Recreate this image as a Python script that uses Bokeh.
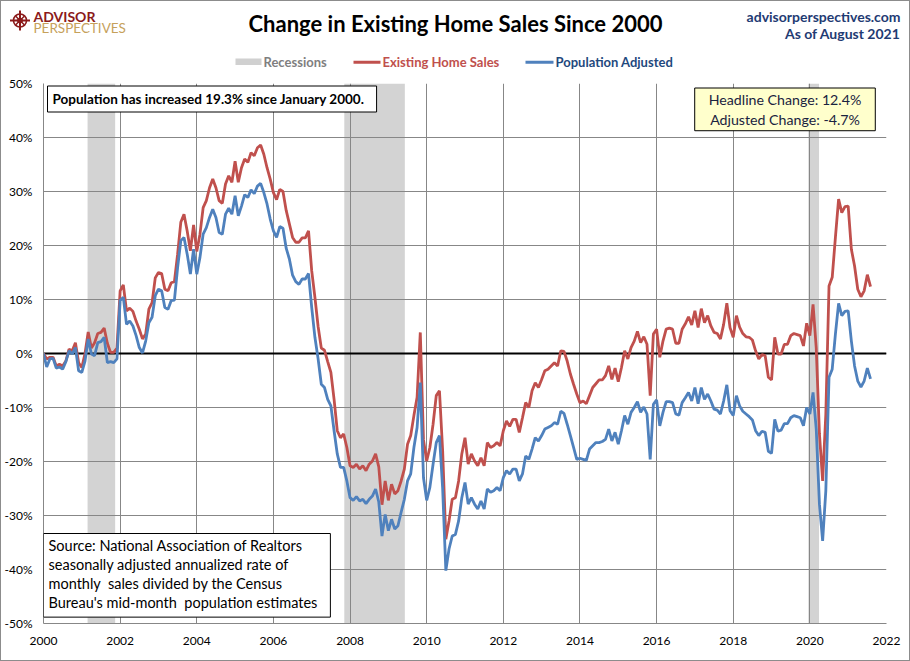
import pandas as pd
from bokeh.plotting import figure
from bokeh.models import Range1d, FixedTicker, PrintfTickFormatter, Span, Label
from bokeh.layouts import column
from bokeh.embed import file_html
from bokeh.resources import INLINE

# ---------------- data (percent change since Jan 2000, monthly) ----------------
existing_home_sales = [
    0.0, -1.0, -0.7, -0.7, -2.3, -2.0, -2.3, -1.4, 0.8, 0.5, 2.0, -1.7,          # 2000
    -2.6, 0.0, 4.0, 1.0, 2.0, 3.7, 3.9, 4.7, 1.9, 0.2, 0.2, 1.0,                 # 2001
    11.6, 12.7, 7.9, 8.4, 7.8, 6.0, 4.5, 2.7, 3.6, 8.2, 9.4, 14.0,               # 2002
    15.0, 14.8, 11.9, 11.6, 13.1, 13.3, 18.4, 24.3, 25.8, 22.7, 19.0, 23.8,      # 2003
    18.9, 22.1, 27.0, 28.3, 30.7, 32.3, 30.7, 28.3, 27.8, 31.4, 32.9, 31.7,      # 2004
    35.6, 31.7, 34.4, 36.0, 35.4, 37.2, 36.6, 38.1, 38.6, 36.9, 34.4, 32.3,      # 2005
    29.8, 28.5, 30.4, 30.0, 26.5, 24.0, 21.5, 20.6, 20.6, 21.4, 21.4, 22.7,      # 2006
    15.3, 10.4, 5.0, 1.0, 0.6, -1.5, -3.5, -8.5, -14.3, -15.6, -14.9, -17.4,     # 2007
    -20.8, -21.1, -20.5, -21.4, -20.8, -21.7, -20.5, -19.9, -18.6, -21.0, -28.0, -23.6,  # 2008
    -27.2, -24.2, -26.0, -25.4, -23.6, -21.4, -16.8, -15.2, -11.5, -8.1, 3.9, -16.0,     # 2009
    -19.9, -17.4, -13.1, -7.8, -6.9, -18.0, -34.4, -31.0, -27.0, -26.7, -23.6, -18.6,    # 2010
    -15.6, -20.5, -18.6, -19.9, -20.8, -19.3, -20.8, -16.5, -17.4, -17.1, -16.5, -17.1,  # 2011
    -14.3, -12.5, -13.5, -12.2, -12.2, -14.6, -11.9, -9.1, -10.0, -6.9, -5.4, -6.3,      # 2012
    -4.8, -3.2, -2.9, -2.3, -1.7, -2.3, 0.5, 0.4, -1.4, -3.8, -5.7, -7.5,                # 2013
    -9.1, -8.8, -9.3, -7.8, -6.3, -5.6, -4.9, -4.9, -4.1, -2.3, -4.8, -2.7,              # 2014
    -5.2, -2.6, 0.5, -1.0, 1.1, 2.3, 4.1, 2.0, 3.1, 1.7, -7.8, 3.6,                      # 2015
    4.5, -0.7, 2.3, 4.5, 4.7, 4.5, 1.9, 1.9, 4.5, 5.5, 6.8, 5.3,                         # 2016
    7.9, 4.8, 8.3, 5.7, 7.0, 5.1, 3.9, 3.7, 2.7, 5.4, 9.3, 4.8,                          # 2017
    3.0, 7.0, 4.9, 3.7, 3.1, 3.0, 2.5, 0.5, -1.0, -0.2, -0.4, -4.4,                      # 2018
    -4.9, 3.0, -0.1, -0.1, 1.7, 1.7, 3.3, 3.7, 3.5, 3.3, 1.4, 5.6,                       # 2019
    3.3, 9.1, 1.0, -14.9, -23.6, -11.2, 12.5, 14.1, 21.5, 28.6, 26.1, 27.2,              # 2020
    27.3, 19.3, 16.2, 11.9, 10.5, 11.6, 14.6, 12.4,                                      # 2021
]

population_adjusted = [
    0.0, -2.5, -1.0, -0.9, -2.7, -2.5, -2.9, -1.5, 0.5, -0.1, 1.1, -3.2,                 # 2000
    -3.5, -1.4, 2.7, -0.1, -0.4, 2.0, 2.2, 3.0, -1.7, -1.5, -1.7, -1.0,                  # 2001
    9.8, 10.4, 5.4, 6.0, 5.1, 3.3, 1.1, 0.1, 2.3, 5.7, 6.7, 10.7,                        # 2002
    11.9, 11.6, 8.5, 8.2, 9.8, 9.9, 15.9, 20.9, 21.5, 18.4, 14.7, 19.3,                  # 2003
    14.7, 17.8, 22.1, 23.3, 25.2, 26.7, 25.2, 22.4, 22.1, 25.8, 26.9, 25.8,              # 2004
    29.2, 25.5, 27.3, 29.4, 28.9, 30.3, 29.6, 31.0, 31.5, 29.8, 27.7, 24.9,              # 2005
    22.7, 21.5, 23.5, 23.2, 19.5, 17.5, 14.5, 13.3, 12.8, 13.8, 13.8, 14.8,              # 2006
    8.5, 3.0, -1.0, -5.7, -6.3, -8.5, -9.7, -14.3, -18.6, -21.1, -21.1, -23.6,           # 2007
    -26.7, -27.2, -26.5, -27.3, -27.0, -27.8, -27.0, -26.4, -25.1, -27.5, -33.8, -29.8,  # 2008
    -32.8, -30.7, -32.5, -31.9, -29.4, -27.0, -23.6, -22.3, -17.4, -13.7, -5.4, -23.0,   # 2009
    -27.2, -24.8, -20.5, -16.5, -15.2, -25.0, -40.2, -36.2, -33.8, -33.5, -31.0, -26.7,  # 2010
    -23.9, -27.9, -26.7, -27.9, -28.8, -27.3, -28.8, -25.1, -25.7, -25.4, -24.8, -25.4,  # 2011
    -23.0, -21.7, -22.3, -21.4, -21.4, -23.6, -22.3, -19.0, -19.6, -17.7, -15.6, -16.2,  # 2012
    -15.2, -14.0, -13.7, -13.4, -12.8, -13.1, -10.7, -11.1, -13.1, -15.2, -17.4, -19.6,  # 2013
    -19.4, -19.6, -19.8, -17.7, -17.1, -16.5, -16.5, -16.3, -15.9, -14.0, -16.2, -14.6,  # 2014
    -16.8, -14.3, -11.5, -13.1, -10.9, -10.0, -8.9, -10.9, -9.9, -11.2, -19.6, -9.4,     # 2015
    -8.6, -13.4, -10.9, -8.9, -8.9, -9.1, -11.2, -11.4, -9.1, -8.2, -7.2, -8.8,          # 2016
    -6.3, -9.3, -6.3, -8.5, -7.5, -8.8, -10.3, -10.5, -11.2, -8.8, -5.8, -10.6,          # 2017
    -11.5, -7.8, -9.7, -10.7, -11.2, -11.7, -12.3, -14.3, -15.2, -14.4, -14.6, -18.1,    # 2018
    -18.5, -12.2, -14.4, -14.2, -13.0, -13.0, -11.9, -11.5, -11.7, -11.9, -13.4, -10.0,  # 2019
    -11.2, -7.2, -14.0, -27.9, -34.7, -25.4, -4.4, -2.9, 3.6, 9.3, 7.0, 7.8,             # 2020
    7.9, 2.3, -2.3, -5.1, -6.2, -5.1, -2.7, -4.7,                                        # 2021
]

recession_start = [2001.15, 2007.85, 2019.96]
recession_end = [2001.87, 2009.43, 2020.24]

x_ticks = list(range(2000, 2023, 2))
y_ticks = list(range(-50, 51, 10))

NB = "\u00a0"
population_note = "Population has increased 19.3% since January 2000."
headline_note = "Headline Change: 12.4%\nAdjusted Change: -4.7%"
source_note = ("Source: National Association of Realtors\n"
               "seasonally adjusted annualized rate of\n"
               "monthly" + NB + " sales divided by the Census\n"
               "Bureau's mid-month" + NB + " population estimates")

# ---------------- styling ----------------
FONT = "Lato"
RED = "#C0504D"
BLUE = "#4F81BD"
GRID = "#878787"
W, H = 908, 659          # inside a 1px page border -> 910 x 661
HEAD_H = 73

months = pd.date_range("2000-01-01", periods=len(existing_home_sales), freq="MS")
xdec = months.year + (months.month - 1) / 12.0

# ---------------- header (coordinates = page pixels) ----------------
header = figure(width=W, height=HEAD_H, x_range=Range1d(1, 1 + W), y_range=Range1d(1 + HEAD_H, 1),
                output_backend="svg", toolbar_location=None, min_border=0,
                x_axis_location=None, y_axis_location=None)
header.outline_line_color = None
header.xgrid.visible = False
header.ygrid.visible = False

# logo
LOGO = "#8B1A1A"
header.scatter([19.5], [20], marker="circle", size=13, fill_color=None, line_color=LOGO, line_width=1.6)
header.scatter([19.5], [20], marker="cross", size=20, line_color=LOGO, line_width=2)
header.scatter([19.5], [20], marker="x", size=12, line_color=LOGO, line_width=1.5)
header.scatter([19.5], [20], marker="circle", size=5, fill_color=LOGO, line_color=LOGO)
header.add_layout(Label(x=33, y=16, text="ADVISOR", text_font=FONT, text_font_style="bold",
                        text_font_size="14px", text_color=LOGO, text_baseline="middle"))
header.add_layout(Label(x=33, y=27.5, text="PERSPECTIVES", text_font=FONT,
                        text_font_size="13.5px", text_color="#C6A15B", text_baseline="middle"))

header.add_layout(Label(x=455, y=23, text="Change in Existing Home Sales Since 2000",
                        text_font=FONT, text_font_style="bold", text_font_size="22px",
                        text_color="black", text_align="center", text_baseline="middle"))
header.add_layout(Label(x=900, y=15.5, text="advisorperspectives.com", text_font=FONT,
                        text_font_style="bold", text_font_size="14px", text_color="#1F3B73",
                        text_align="right", text_baseline="middle"))
header.add_layout(Label(x=900, y=33, text="As of August 2021", text_font=FONT,
                        text_font_style="bold", text_font_size="14px", text_color="#1F3B73",
                        text_align="right", text_baseline="middle"))

# legend
header.quad(left=[235], right=[261], top=[58], bottom=[64.5], fill_color="#D0D0D0", line_color=None)
header.add_layout(Label(x=263, y=61.5, text="Recessions", text_font=FONT, text_font_style="bold",
                        text_font_size="13px", text_color="#7F7F7F", text_baseline="middle"))
header.segment(x0=[353], y0=[61.7], x1=[380], y1=[61.7], line_color=RED, line_width=3)
header.add_layout(Label(x=382, y=61.5, text="Existing Home Sales", text_font=FONT,
                        text_font_style="bold", text_font_size="13px", text_color=RED,
                        text_baseline="middle"))
header.segment(x0=[525], y0=[61.7], x1=[553], y1=[61.7], line_color=BLUE, line_width=3)
header.add_layout(Label(x=555, y=61.5, text="Population Adjusted", text_font=FONT,
                        text_font_style="bold", text_font_size="13px", text_color="#1F497D",
                        text_baseline="middle"))

# ---------------- main chart ----------------
p = figure(width=W, height=H - HEAD_H, x_range=Range1d(2000, 2022), y_range=Range1d(-50, 50),
           output_backend="svg", toolbar_location=None,
           min_border_left=41, min_border_right=23, min_border_top=9, min_border_bottom=37)
p.outline_line_color = None

if "frame_align" in header.properties():
    header.frame_align = False
    p.frame_align = False

for g, t in ((p.xgrid, x_ticks), (p.ygrid, y_ticks)):
    g.ticker = FixedTicker(ticks=t)
    g.grid_line_color = GRID
    g.grid_line_width = 1

p.xaxis.ticker = FixedTicker(ticks=x_ticks)
p.yaxis.ticker = FixedTicker(ticks=y_ticks)
p.xaxis.formatter = PrintfTickFormatter(format="%d")
p.yaxis.formatter = PrintfTickFormatter(format="%d%%")
for ax in (p.xaxis, p.yaxis):
    ax.axis_line_color = GRID
    ax.major_tick_out = 0
    ax.major_tick_in = 0
    ax.minor_tick_out = 0
    ax.minor_tick_in = 0
    ax.major_label_text_font = FONT
    ax.major_label_text_color = "black"
p.xaxis.major_label_text_font_size = "12px"
p.yaxis.major_label_text_font_size = "12px"
p.xaxis.major_label_standoff = 13
p.yaxis.major_label_standoff = 11

# recessions (behind the grid)
p.quad(left=recession_start, right=recession_end, bottom=p.y_range.start, top=p.y_range.end,
       fill_color="#D3D3D3", line_color=None, level="image")

p.add_layout(Span(location=0, dimension="width", line_color="black", line_width=2, level="underlay"))

p.line(xdec, existing_home_sales, line_color=RED, line_width=2.8)
p.line(xdec, population_adjusted, line_color=BLUE, line_width=2.8)


def boxed(text, sx, sy, size, bold, bg, pad, color="black", align="left", lh=1.2):
    common = dict(x=sx, y=sy, x_units="screen", y_units="screen", text=text, text_font=FONT,
                  text_font_size=size, text_font_style="bold" if bold else "normal",
                  text_align=align, text_baseline="top", text_line_height=lh, padding=pad)
    shadow = Label(**{**common, "x": sx + 4, "y": sy - 4}, text_alpha=0,
                   background_fill_color="#9A9A9A", background_fill_alpha=0.55)
    main = Label(**common, text_color=color, background_fill_color=bg,
                 border_line_color="black", border_line_width=1)
    p.add_layout(shadow)
    p.add_layout(main)


# screen coordinates relative to the plot frame (left = page x 42, bottom = page y 623)
boxed(population_note, 4, 537.5, "13.5px", True, "white",
      dict(left=5, right=12, top=5, bottom=5))
boxed(headline_note, 741.5, 535.5, "14.2px", False, "#FFFFCC",
      dict(left=14, right=14, top=3, bottom=3), color="#1A2340", align="center", lh=1.16)
boxed(source_note, 0, 90, "14.5px", False, "white",
      dict(left=5, right=13, top=3, bottom=6), lh=1.13)

layout = column(header, p, spacing=0, styles={"border": "1px solid #8C8C8C"})
open("out.html", "w").write(file_html(layout, INLINE))
